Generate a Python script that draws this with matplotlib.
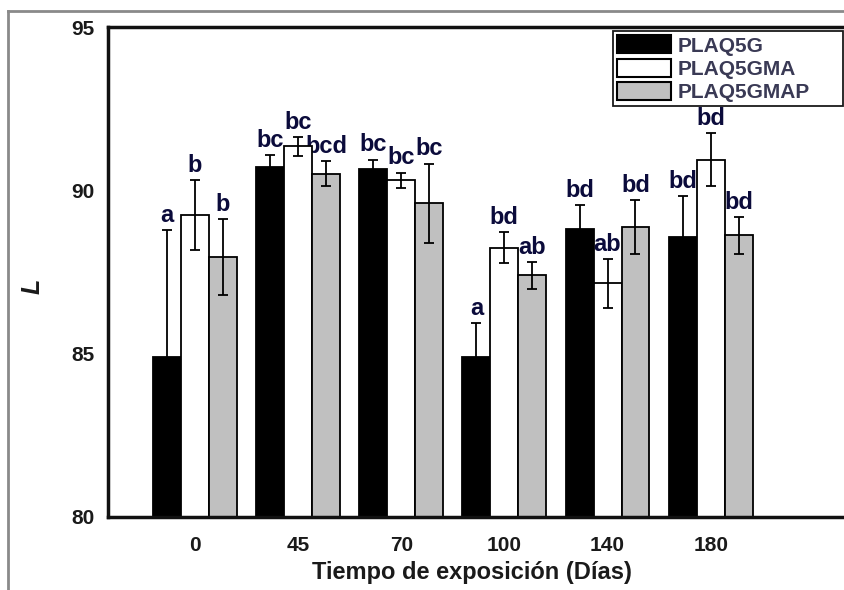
import numpy as np
import matplotlib
matplotlib.use("Agg")
from matplotlib import pyplot as plt
from matplotlib.patches import Patch
from matplotlib.lines import Line2D

plt.rcParams['font.family'] = ['Liberation Sans', 'DejaVu Sans']

# exposure time (days)
days = ['0', '45', '70', '100', '140', '180']
series = ['PLAQ5G', 'PLAQ5GMA', 'PLAQ5GMAP']

L_g = [84.9, 90.71, 90.66, 84.9, 88.83, 88.57]
err_g = [3.88, 0.36, 0.28, 1.04, 0.71, 1.25]
L_gma = [89.24, 91.35, 90.31, 88.25, 87.15, 90.94]
err_gma = [1.07, 0.29, 0.23, 0.46, 0.74, 0.82]
L_gmap = [87.96, 90.51, 89.61, 87.40, 88.88, 88.62]
err_gmap = [1.15, 0.38, 1.21, 0.41, 0.82, 0.56]

letters_g = ['a', 'bc', 'bc', 'a', 'bd', 'bd']
letters_gma = ['b', 'bc', 'bc', 'bd', 'ab', 'bd']
letters_gmap = ['b', 'bcd', 'bc', 'ab', 'bd', 'bd']

colors = ['black', 'white', '#c0c0c0']
letter_color = '#0b0b3b'

fig = plt.figure(figsize=(8.45, 5.9), dpi=100)
ax = fig.add_axes([0.128, 0.124, 0.89, 0.83])

x = np.arange(len(days))
w = 0.271
data = [(L_g, err_g, letters_g), (L_gma, err_gma, letters_gma),
        (L_gmap, err_gmap, letters_gmap)]

for i, (vals, errs, lets) in enumerate(data):
    pos = x + (i - 1) * w
    ax.bar(pos, np.array(vals) - 80, width=w, bottom=80, color=colors[i],
           edgecolor='black', linewidth=1.3, zorder=2)
    ax.errorbar(pos, vals, yerr=errs, fmt='none', ecolor='black',
                elinewidth=1.3, capsize=3.5, capthick=1.3, zorder=3)
    for p, v, e, t in zip(pos, vals, errs, lets):
        ax.text(p, v + e + 0.1, t, ha='center', va='bottom', fontsize=17,
                fontweight='bold', color=letter_color, zorder=1)

ax.set_ylim(80, 95)
ax.set_xlim(-0.842, 6.45)
ax.set_yticks([80, 85, 90, 95])
ax.set_xticks(x)
ax.set_xticklabels(days)
ax.tick_params(axis='both', length=0, labelsize=15, colors='#1a1a1a')
ax.tick_params(axis='y', pad=10)
ax.tick_params(axis='x', pad=14)
for lab in ax.get_xticklabels() + ax.get_yticklabels():
    lab.set_fontweight('bold')

for s in ['left', 'bottom', 'top']:
    ax.spines[s].set_linewidth(2.5)
    ax.spines[s].set_color('#111111')
ax.spines['right'].set_visible(False)

ax.set_xlabel('Tiempo de exposición (Días)', fontsize=17, fontweight='bold',
              color='#1a1a1a')
ax.xaxis.set_label_coords(0.484, -0.09)
ax.set_ylabel('L', fontsize=18, fontweight='bold', style='italic',
              color='#1a1a1a')
ax.yaxis.set_label_coords(-0.085, 0.47)

handles = [Patch(facecolor=c, edgecolor='black', linewidth=1.5) for c in colors]
leg = ax.legend(handles, series, loc='upper left',
                bbox_to_anchor=(0.7254, 0.822, 0.272, 0.125),
                bbox_transform=fig.transFigure, mode='expand',
                fancybox=False, framealpha=1, edgecolor='#1a1a1a',
                borderpad=0.2, labelspacing=0.15, handlelength=2.6,
                handleheight=0.95, handletextpad=0.3, borderaxespad=0,
                prop={'size': 15, 'weight': 'bold'})
leg.get_frame().set_linewidth(1.3)
leg.set_zorder(5)
for t in leg.get_texts():
    t.set_color('#3a3a55')

# screenshot frame
fig.add_artist(Line2D([0.0095, 0.0095], [0, 0.981], color='#8a8a8a', lw=2,
                      transform=fig.transFigure))
fig.add_artist(Line2D([0.0095, 1.0], [0.981, 0.981], color='#8a8a8a', lw=2,
                      transform=fig.transFigure))

fig.savefig('out.png', dpi=100)
